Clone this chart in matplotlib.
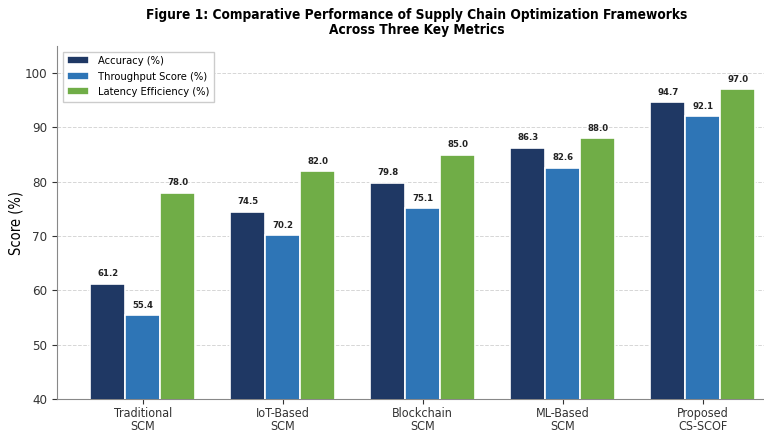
import matplotlib
matplotlib.use("Agg")
import matplotlib.pyplot as plt
import numpy as np

plt.rcParams["font.family"] = ["DejaVu Sans"]
plt.rcParams["font.stretch"] = "condensed"

categories = ["Traditional\nSCM", "IoT-Based\nSCM", "Blockchain\nSCM", "ML-Based\nSCM", "Proposed\nCS-SCOF"]
accuracy = [61.2, 74.5, 79.8, 86.3, 94.7]
throughput = [55.4, 70.2, 75.1, 82.6, 92.1]
latency = [78.0, 82.0, 85.0, 88.0, 97.0]
series_names = ["Accuracy (%)", "Throughput Score (%)", "Latency Efficiency (%)"]
colors = ["#1f3864", "#2e75b6", "#70ad47"]

fig = plt.figure(figsize=(7.64, 4.32), dpi=100)
ax = fig.add_axes([0.0746, 0.0764, 0.9575, 0.817])

x = np.arange(len(categories))
w = 0.25
for i, (vals, name, c) in enumerate(zip([accuracy, throughput, latency], series_names, colors)):
    bars = ax.bar(x + (i - 1) * w, vals, w, label=name, color=c, edgecolor="white", linewidth=1.2, zorder=3)
    for b, v in zip(bars, vals):
        ax.text(b.get_x() + b.get_width() / 2, v + 1.0, f"{v:.1f}", ha="center", va="bottom",
                fontsize=6.8, fontweight="bold", color="#222222", zorder=4)

ax.set_ylim(40, 105)
ax.set_xlim(-0.6125, 4.6125)
ax.set_xticks(x)
ax.set_xticklabels(categories, fontsize=9, linespacing=1.05)
ax.tick_params(axis="x", pad=2)
ax.tick_params(axis="y", labelsize=9.5)
ax.set_ylabel("Score (%)", fontsize=10.5, labelpad=1)
ax.yaxis.grid(True, linestyle="--", color="#cccccc", linewidth=0.7, alpha=0.8, zorder=0)
ax.set_axisbelow(True)
for s in ["top", "right"]:
    ax.spines[s].set_visible(False)
for s in ["left", "bottom"]:
    ax.spines[s].set_color("#888888")
ax.tick_params(colors="#333333")

ax.legend(loc="upper left", fontsize=8, frameon=True, framealpha=1.0, edgecolor="#cccccc", fancybox=False)

fig.text(0.545, 0.982, "Figure 1: Comparative Performance of Supply Chain Optimization Frameworks\nAcross Three Key Metrics",
         ha="center", va="top", fontsize=9.8, fontweight="bold", linespacing=1.1)

fig.savefig("out.png", dpi=100)
